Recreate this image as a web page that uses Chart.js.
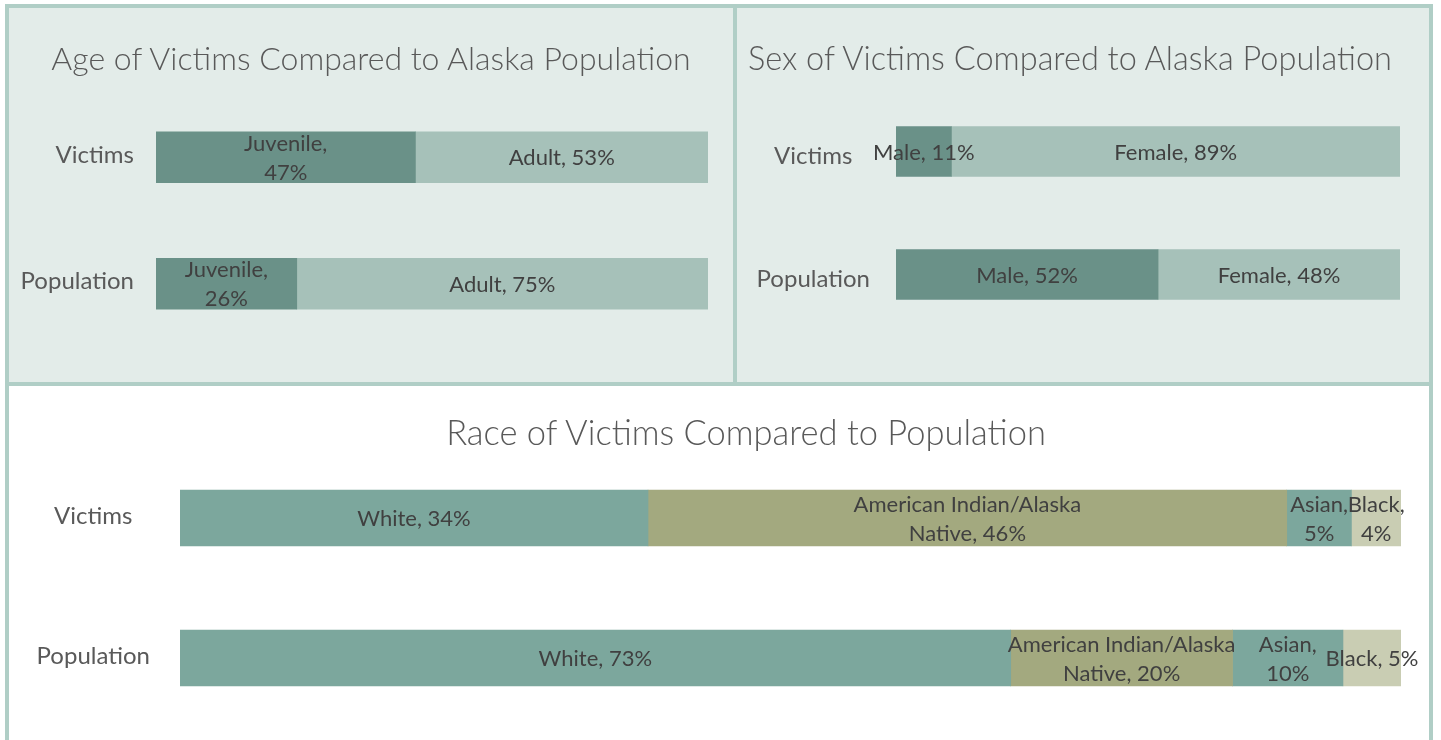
<!DOCTYPE html>
<html>
<head>
<meta charset="utf-8">
<script src="https://cdn.jsdelivr.net/npm/chart.js@4/dist/chart.umd.min.js"></script>
<style>
	body { margin: 0; background: #ffffff; width: 1441px; height: 740px; overflow: hidden; position: relative; }
	.panel { position: absolute; box-sizing: border-box; border: 4px solid #b0cec6; }
	.panel canvas { position: absolute; left: 0; top: 0; }
	.title { position: absolute; width: 800px; text-align: center; font-family: Lato, sans-serif; font-weight: 300; line-height: 36px; color: #595959; white-space: nowrap; }
	#agePanel { left: 5px; top: 4px; width: 732px; height: 382px; background: #e3ece9; }
	#sexPanel { left: 733px; top: 4px; width: 700px; height: 382px; background: #e3ece9; }
	#racePanel { left: 5px; top: 382px; width: 1428px; height: 362px; background: #ffffff; }
</style>
</head>
<body>
<div class="panel" id="agePanel">
	<canvas id="ageChart" width="724" height="374"></canvas>
	<div class="title" style="left:-38px; top:32px; font-size:32px;">Age of Victims Compared to Alaska Population</div>
</div>
<div class="panel" id="sexPanel">
	<canvas id="sexChart" width="692" height="374"></canvas>
	<div class="title" style="left:-67px; top:32px; font-size:32.5px;">Sex of Victims Compared to Alaska Population</div>
</div>
<div class="panel" id="racePanel">
	<canvas id="raceChart" width="1420" height="354"></canvas>
	<div class="title" style="left:337px; top:28px; font-size:34.5px;">Race of Victims Compared to Population</div>
</div>
<script>
const categories = ['Victims', 'Population'];

const ageSeries = ['Juvenile', 'Adult'];
const ageVictims = [47, 53];
const agePopulation = [25.5, 74.5];
const ageVictimLabels = ['Juvenile,\n47%', 'Adult, 53%'];
const agePopulationLabels = ['Juvenile,\n26%', 'Adult, 75%'];

const sexSeries = ['Male', 'Female'];
const sexVictims = [11, 89];
const sexPopulation = [52, 48];
const sexVictimLabels = ['Male, 11%', 'Female, 89%'];
const sexPopulationLabels = ['Male, 52%', 'Female, 48%'];

const raceSeries = ['White', 'American Indian/Alaska Native', 'Asian', 'Black'];
const raceVictims = [34, 46.4, 4.7, 3.6];
const racePopulation = [73, 19.5, 9.7, 5.1];
const raceVictimLabels = ['White, 34%', 'American Indian/Alaska\nNative, 46%', 'Asian,\n5%', 'Black,\n4%'];
const racePopulationLabels = ['White, 73%', 'American Indian/Alaska\nNative, 20%', 'Asian,\n10%', 'Black, 5%'];

// writes the "name, nn%" text centred on every segment
const segmentLabels = {
	id: 'segmentLabels',
	afterDatasetsDraw(chart, args, opts) {
		const ctx = chart.ctx;
		ctx.save();
		ctx.font = '22px Lato, sans-serif';
		ctx.fillStyle = '#404040';
		ctx.textAlign = 'center';
		ctx.textBaseline = 'middle';
		chart.data.datasets.forEach((ds, i) => {
			chart.getDatasetMeta(i).data.forEach((bar, j) => {
				const lines = opts.labels[j][i].split('\n');
				const cx = (bar.x + bar.base) / 2;
				lines.forEach((line, k) => {
					ctx.fillText(line, cx, bar.y + 1 + (k - (lines.length - 1) / 2) * 29);
				});
			});
		});
		ctx.restore();
	}
};

// 100% stacked bar: each row is shown as a share of its own total
function makeChart(id, series, rows, labels, colors, lay) {
	const totals = rows.map(r => r.reduce((a, b) => a + b, 0));
	const datasets = series.map((name, s) => ({
		label: name,
		data: rows.map((r, c) => r[s] / totals[c] * 100),
		backgroundColor: colors[s],
		barThickness: lay.thickness
	}));

	return new Chart(document.getElementById(id), {
		type: 'bar',
		data: { labels: categories, datasets: datasets },
		options: {
			indexAxis: 'y',
			responsive: false,
			animation: false,
			layout: { padding: lay.padding },
			scales: {
				x: { stacked: true, min: 0, max: 100, display: false },
				y: {
					stacked: true,
					grid: { display: false, drawTicks: false },
					border: { display: false },
					ticks: {
						color: '#595959',
						font: { family: 'Lato', size: 24 },
						crossAlign: lay.align,
						padding: lay.tickPad,
						labelOffset: lay.labelShift
					},
					afterFit(scale) {
						// fixed axis width; tick padding should not eat into the plot height
						scale.width = lay.axisWidth;
						scale.paddingTop = 0;
						scale.paddingBottom = 0;
					}
				}
			},
			plugins: {
				legend: { display: false },
				tooltip: { enabled: false },
				segmentLabels: { labels: labels }
			}
		},
		plugins: [segmentLabels]
	});
}

function createCharts() {
	makeChart('ageChart', ageSeries, [ageVictims, agePopulation],
		[ageVictimLabels, agePopulationLabels], ['#6a9188', '#a6c1b9'],
		{ thickness: 51, padding: { left: 0, right: 25, top: 86, bottom: 35 }, axisWidth: 147, align: 'near', tickPad: 22, labelShift: -2 });

	makeChart('sexChart', sexSeries, [sexVictims, sexPopulation],
		[sexVictimLabels, sexPopulationLabels], ['#6a9188', '#a6c1b9'],
		{ thickness: 50, padding: { left: 0, right: 29, top: 82, bottom: 46 }, axisWidth: 159, align: 'center', tickPad: 26, labelShift: 5 });

	makeChart('raceChart', raceSeries, [raceVictims, racePopulation],
		[raceVictimLabels, racePopulationLabels], ['#7ca79d', '#a3a97f', '#7ca79d', '#c9cdb3'],
		{ thickness: 56, padding: { left: 0, right: 28, top: 62, bottom: 12 }, axisWidth: 171, align: 'center', tickPad: 30, labelShift: -2 });
}

document.addEventListener('DOMContentLoaded', createCharts);
</script>
</body>
</html>
